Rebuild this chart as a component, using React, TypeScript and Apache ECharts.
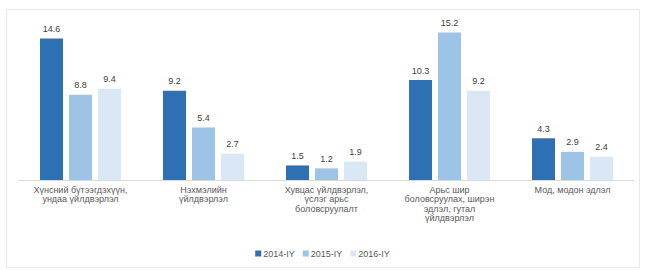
import React, { useEffect, useRef } from "react";
import * as echarts from "echarts";

const categories = [
  "Хүнсний бүтээгдэхүүн,\nундаа үйлдвэрлэл",
  "Нэхмэлийн\nүйлдвэрлэл",
  "Хувцас үйлдвэрлэл,\nүслэг арьс\nболовсруулалт",
  "Арьс шир\nболовсруулах, ширэн\nэдлэл, гутал\nүйлдвэрлэл",
  "Мод, модон эдлэл",
];
const seriesNames = ["2014-IY", "2015-IY", "2016-IY"];
const values2014 = [14.6, 9.2, 1.5, 10.3, 4.3];
const values2015 = [8.8, 5.4, 1.2, 15.2, 2.9];
const values2016 = [9.4, 2.7, 1.9, 9.2, 2.4];
const colors = ["#2E70B4", "#9DC3E6", "#DAE8F6"];

export default function App() {
  const ref = useRef<HTMLDivElement>(null);
  useEffect(() => {
    if (!ref.current) return;
    const chart = echarts.init(ref.current, null, { renderer: "svg" });
    const data = [values2014, values2015, values2016];
    chart.setOption({
      animation: false,
      backgroundColor: "#ffffff",
      textStyle: { fontFamily: "Liberation Sans, Arial, sans-serif" },
      graphic: [
        {
          type: "rect",
          shape: { x: 6.5, y: 9.5, width: 633, height: 258 },
          style: { fill: "none", stroke: "#e8e8e8", lineWidth: 1 },
          silent: true,
        },
      ],
      grid: { left: 19, right: 11, top: 24.8, bottom: 90, containLabel: false },
      legend: {
        bottom: 7,
        left: "center",
        itemWidth: 6,
        itemHeight: 6,
        itemGap: 8,
        icon: "rect",
        textStyle: { fontSize: 9, color: "#595959", padding: [0, 0, 0, -3] },
        data: seriesNames,
      },
      xAxis: {
        type: "category",
        data: categories,
        axisLine: { lineStyle: { color: "#d9d9d9" } },
        axisTick: { show: false },
        axisLabel: {
          fontSize: 9,
          color: "#595959",
          lineHeight: 9.5,
          margin: 5,
          interval: 0,
        },
      },
      yAxis: {
        type: "value",
        min: 0,
        max: 16,
        show: false,
        splitLine: { show: false },
      },
      series: seriesNames.map((name, i) => ({
        name,
        type: "bar",
        data: data[i],
        barWidth: 23,
        barGap: "26%",
        itemStyle: { color: colors[i] },
        label: {
          show: true,
          position: "top",
          distance: 5,
          fontSize: 9,
          color: "#404040",
          formatter: (p: any) => Number(p.value).toFixed(1),
        },
      })),
    });
    return () => chart.dispose();
  }, []);
  return (
    <div
      ref={ref}
      style={{ position: "fixed", left: 0, top: 0, width: 645, height: 270, background: "#fff" }}
    />
  );
}
